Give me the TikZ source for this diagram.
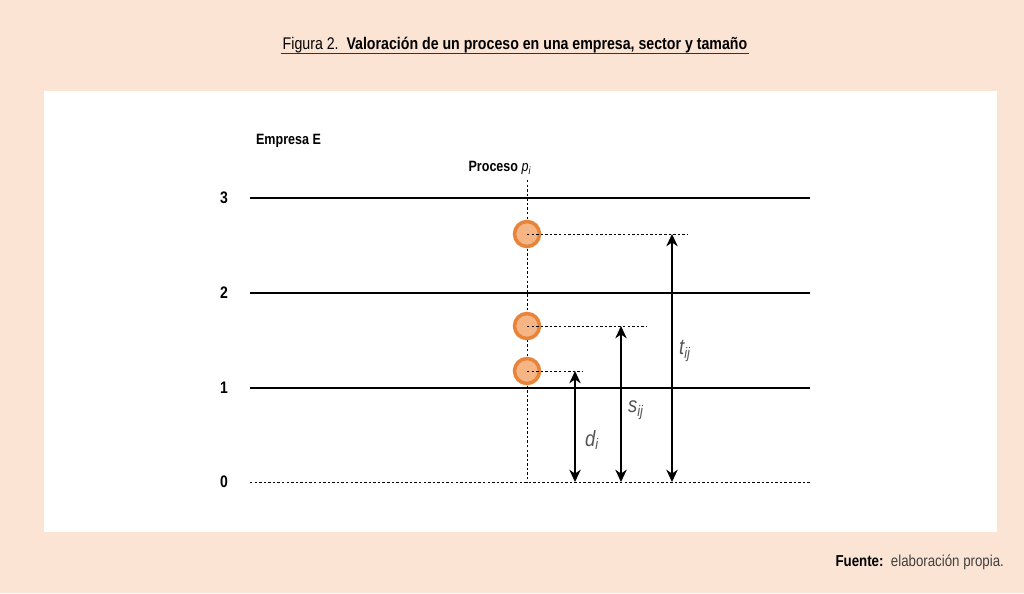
\documentclass[tikz,border=0pt]{standalone}
\usepackage{fontspec}
\setmainfont{Liberation Sans}[FakeStretch=0.84]
\usepackage{tikz}
\usetikzlibrary{calc}
\usetikzlibrary{arrows.meta}
\definecolor{peach}{HTML}{FCE4D4}
\definecolor{dotfill}{HTML}{F5B585}
\definecolor{dotline}{HTML}{E8833A}
\definecolor{labgray}{HTML}{555555}
\newlength{\pxu}
\setlength{\pxu}{0.02cm}
\tikzset{
 level/.style={black, line width=0.8pt},
 guide/.style={black, dash pattern=on 1.4pt off 1.2pt, line width=0.5pt},
 proc/.style={circle, fill=dotfill, draw=dotline, line width=2pt, minimum size=25\pxu, inner sep=0},
 meas/.style={black, line width=0.85pt, <->, >={Stealth[length=7pt, width=6.5pt, inset=2.2pt]}},
 lbl/.style={font=\fontsize{8.5}{10}\selectfont, inner sep=1},
 sym/.style={font=\fontsize{12.5}{14}\selectfont\itshape, text=labgray, inner sep=1}
}

\begin{document}
\begin{tikzpicture}[x=0.02cm, y=-0.02cm]
\fill[peach] (0,0) rectangle (1024,593);
\useasboundingbox (0,0) rectangle (1024,593);
\fill[white] (44,91) rectangle (997,532);
% title
\node[lbl, font=\fontsize{9.6}{11}\selectfont] (title) at (515,45) {Figura 2.\ \ \textbf{Valoración de un proceso en una empresa, sector y tamaño}};
\draw[black!80, line width=0.6pt] (title.south west) ++(0,-2) coordinate (ul) -- (ul -| title.south east);
% levels
\foreach \lv/\y in {3/198, 2/293, 1/388} {
 \node[lbl, font=\fontsize{9.5}{11}\selectfont\bfseries] (n\lv) at (224,\y) {\lv};
 \draw[level] (250,\y) -- (810,\y);
}
\node[lbl, font=\fontsize{9.5}{11}\selectfont\bfseries] (n0) at (224,482) {0};
\draw[guide] (250,482) -- (810,482);
\node[lbl, font=\fontsize{8.5}{10}\selectfont\bfseries, anchor=west] (emp) at (254,141) {Empresa E};
\node[lbl, font=\fontsize{8.5}{10}\selectfont\bfseries] (proc) at (500,168) {Proceso \textit{\mdseries p\textsubscript{i}}};
\coordinate (top) at (527,180);
\coordinate (bot) at (527,482);
\draw[guide] (top) -- (bot);
% processes
\node[proc] (pt) at (527,234) {};
\node[proc] (ps) at (527,326) {};
\node[proc] (pd) at (527,371) {};
\draw[guide] (pt.center) -- (687,234) coordinate (et);
\draw[guide] (ps.center) -- (647,326) coordinate (es);
\draw[guide] (pd.center) -- (583,371) coordinate (ed);
% measures
\draw[meas] (575,482) coordinate (bd) -- (575,371) coordinate (hd);
\draw[meas] (621,482) coordinate (bs) -- (621,326) coordinate (hs);
\draw[meas] (672,482) coordinate (bt) -- (672,234) coordinate (ht);
\node[sym] (ld) at (592,440) {d\textsubscript{i}};
\node[sym] (ls) at (636,410) {s\textsubscript{ij}};
\node[sym] (lt) at (685,351) {t\textsubscript{ij}};
% source
\node[lbl, font=\fontsize{9}{11}\selectfont, anchor=east] (src) at (1006,562) {\textbf{Fuente:}\ \ \textcolor{black!75}{elaboración propia.}};
\end{tikzpicture}
\end{document}
